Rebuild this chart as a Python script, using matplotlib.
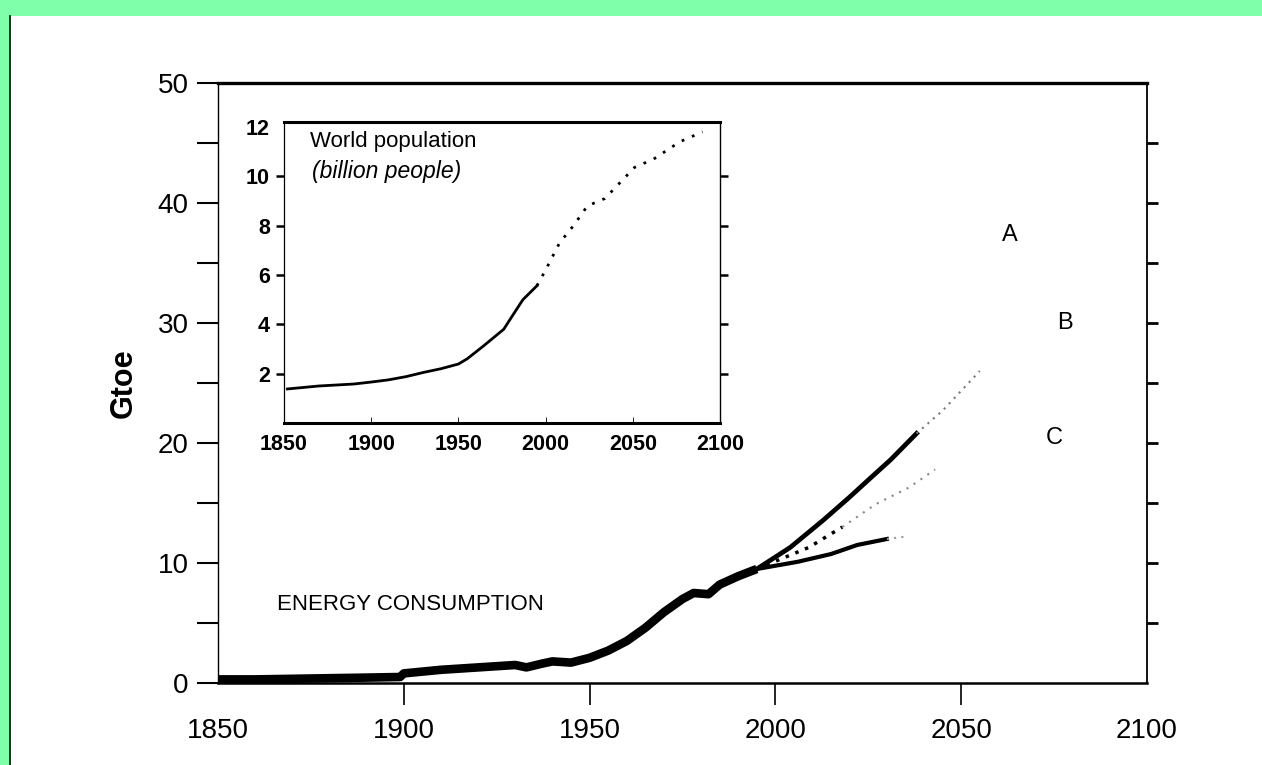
import numpy as np
import matplotlib
matplotlib.use('Agg')
import matplotlib.pyplot as plt
from matplotlib.patches import Rectangle
from matplotlib.lines import Line2D

plt.rcParams['font.family'] = ['Liberation Sans', 'DejaVu Sans']

# Historical world energy consumption (Gtoe)
energy_years = [1850, 1860, 1870, 1880, 1890, 1899, 1900, 1910, 1920, 1925, 1930, 1933,
                1937, 1940, 1945, 1950, 1955, 1960, 1965, 1970, 1975, 1978, 1982, 1985,
                1990, 1995]
energy_gtoe = [0.3, 0.3, 0.35, 0.4, 0.45, 0.5, 0.8, 1.1, 1.3, 1.4, 1.5, 1.3,
               1.6, 1.8, 1.7, 2.1, 2.7, 3.5, 4.6, 5.9, 7.0, 7.5, 7.4, 8.2,
               8.9, 9.5]

# Scenario projections
a_years = [1995, 2004, 2013, 2020, 2026, 2031, 2038, 2045, 2055]
a_gtoe = [9.5, 11.3, 13.6, 15.5, 17.2, 18.6, 20.8, 22.7, 26.0]
b_years = [1995, 2009, 2018, 2027, 2036, 2043]
b_gtoe = [9.5, 11.3, 13.0, 14.9, 16.3, 17.8]
c_years = [1995, 2006, 2015, 2022, 2030, 2035]
c_gtoe = [9.5, 10.1, 10.75, 11.5, 12.0, 12.2]
scenario_labels = ['A', 'B', 'C']
label_years = [2063, 2078, 2075]
label_gtoe = [37.3, 30.0, 20.4]

# World population (billion people)
pop_years = [1852, 1870, 1890, 1900, 1910, 1920, 1930, 1940, 1950, 1955, 1964, 1970,
             1976, 1981, 1987, 1995, 2000, 2008, 2016, 2024, 2034, 2051, 2062, 2077, 2090]
pop_billion = [1.38, 1.50, 1.58, 1.66, 1.75, 1.88, 2.05, 2.2, 2.39, 2.6, 3.1, 3.45,
               3.8, 4.35, 5.0, 5.56, 6.2, 7.3, 8.0, 8.8, 9.1, 10.36, 10.7, 11.4, 11.8]

W, H = 1262, 765
fig = plt.figure(figsize=(12.62, 7.65), dpi=100)
fig.patch.set_facecolor('white')

# green frame of the slide
green = '#80FFAA'
fig.patches.append(Rectangle((0, 1 - 16 / H), 1, 16 / H, transform=fig.transFigure,
                             facecolor=green, edgecolor='none', zorder=0))
fig.patches.append(Rectangle((0, 0), 9 / W, 1, transform=fig.transFigure,
                             facecolor=green, edgecolor='none', zorder=0))
fig.lines.append(Line2D([10 / W, 10 / W], [0, 1 - 16 / H], transform=fig.transFigure,
                        color='black', lw=1.2))

# main axes
ax = fig.add_axes([218 / W, 1 - 683 / H, 929 / W, 600 / H])
ax.set_xlim(1850, 2100)
ax.set_ylim(0, 50)

ax.plot(energy_years, energy_gtoe, color='black', lw=6.2, solid_capstyle='butt', zorder=3)

# A: solid then fading dots
ax.plot(a_years[:7], a_gtoe[:7], color='black', lw=3.4, zorder=3)
ax.plot(a_years[6:], a_gtoe[6:], color='#777777', lw=1.5, ls=(0, (1, 2.5)), zorder=3)
# B: dotted
ax.plot(b_years[:3], b_gtoe[:3], color='black', lw=2.5, ls=(0, (1, 2)), zorder=3)
ax.plot(b_years[2:], b_gtoe[2:], color='#888888', lw=1.5, ls=(0, (1, 3)), zorder=3)
# C: solid then fading
ax.plot(c_years[:5], c_gtoe[:5], color='black', lw=3.0, zorder=3)
ax.plot(c_years[4:], c_gtoe[4:], color='#999999', lw=1.5, ls=(0, (1, 2.5)), zorder=3)

for lab, yr, v in zip(scenario_labels, label_years, label_gtoe):
    ax.text(yr, v, lab, fontsize=17, ha='center', va='center')

ax.text(1866, 6.5, 'ENERGY CONSUMPTION', fontsize=16, ha='left', va='center')

ax.set_xticks([1850, 1900, 1950, 2000, 2050, 2100])
ax.set_yticks([0, 10, 20, 30, 40, 50])
ax.set_yticks([5, 15, 25, 35, 45], minor=True)
ax.tick_params(axis='x', direction='out', length=16, width=1.2, pad=9, labelsize=20)
ax.tick_params(axis='y', which='both', direction='out', length=15, width=1.5, pad=6, labelsize=20)
for t in (ax.xaxis.get_major_ticks()[0], ax.xaxis.get_major_ticks()[-1],
          ax.yaxis.get_major_ticks()[0], ax.yaxis.get_major_ticks()[-1]):
    t.tick1line.set_visible(False)
ax.set_ylabel('Gtoe', fontsize=22, fontweight='bold', labelpad=14)

ax.spines['top'].set_linewidth(2.4)
ax.spines['bottom'].set_linewidth(1.8)
ax.spines['left'].set_linewidth(1.0)
ax.spines['right'].set_linewidth(1.3)

# right side ticks
axr = ax.twinx()
axr.set_ylim(0, 50)
axr.set_yticks([5, 10, 15, 20, 25, 30, 35, 40, 45])
axr.tick_params(axis='y', direction='out', length=8, width=2, labelright=False)
for s in axr.spines.values():
    s.set_visible(False)

# inset: world population
ins = fig.add_axes([284 / W, 1 - 423 / H, 436 / W, 301 / H], zorder=5)
ins.set_facecolor('white')
ins.set_xlim(1850, 2100)
ins.set_ylim(0, 12.2)
ins.plot(pop_years[:16], pop_billion[:16], color='black', lw=2)
ins.plot(pop_years[15:], pop_billion[15:], color='black', lw=2, ls=(0, (1, 3)))
ins.text(1865, 11.4, 'World population', fontsize=16, ha='left', va='center')
ins.text(1866, 10.2, '(billion people)', fontsize=16.5, style='italic', ha='left', va='center')

ins.set_xticks([1850, 1900, 1950, 2000, 2050, 2100])
ins.set_yticks([2, 4, 6, 8, 10, 12])
ins.tick_params(axis='x', direction='in', length=4, width=0.6, pad=8, labelsize=15.5)
ins.tick_params(axis='y', direction='out', length=6, width=1.8, pad=4, labelsize=15.5,
                right=True)
for lbl in ins.get_xticklabels() + ins.get_yticklabels():
    lbl.set_fontweight('bold')
ins.yaxis.get_major_ticks()[-1].tick1line.set_visible(False)
ins.yaxis.get_major_ticks()[-1].tick2line.set_visible(False)
ins.spines['top'].set_linewidth(2.2)
ins.spines['bottom'].set_linewidth(2.2)
ins.spines['left'].set_linewidth(0.9)
ins.spines['right'].set_linewidth(1.0)

fig.savefig('out.png', dpi=100, facecolor=fig.get_facecolor())
